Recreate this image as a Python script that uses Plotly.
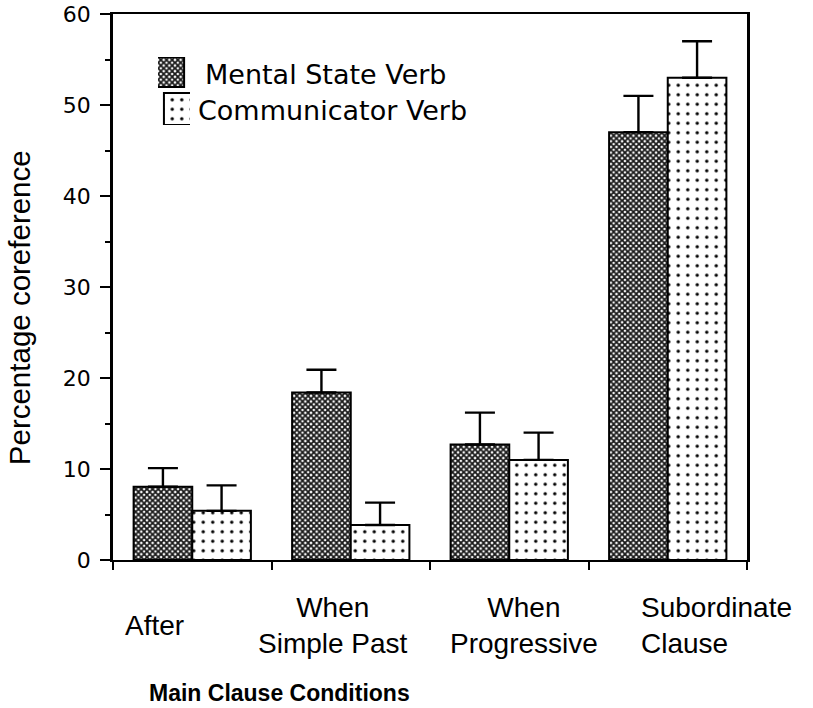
import plotly.graph_objects as go

categories = ["After", "When Simple Past", "When Progressive", "Subordinate Clause"]
cat_labels = ["After", "When<br>Simple Past", "When<br>Progressive", "Subordinate<br>Clause"]
mental = [8.05, 18.4, 12.7, 47.0]
mental_err = [2.05, 2.5, 3.5, 4.0]
communicator = [5.4, 3.85, 11.0, 53.0]
communicator_err = [2.8, 2.45, 3.0, 4.0]
series_names = ["Mental State Verb", "Communicator Verb"]
y_ticks = [0, 10, 20, 30, 40, 50, 60]

# label placement (offset from category centre, in category units) and alignment
label_offset = [-0.24, -0.11, 0.09, -0.18]
label_anchor = ["center", "center", "center", "left"]

FONT = "Liberation Sans, Arial, Helvetica, sans-serif"

mental_pattern = dict(shape="x", size=4, solidity=0.7, fgcolor="#1a1a1a",
                      bgcolor="white", fillmode="replace")
comm_pattern = dict(shape=".", size=9.5, solidity=0.1, fgcolor="black",
                    bgcolor="white", fillmode="replace")

fig = go.Figure()
fig.add_trace(go.Bar(
    x=list(range(len(categories))), y=mental, name=series_names[0], showlegend=False,
    marker=dict(color="white", line=dict(color="black", width=2), pattern=mental_pattern),
    error_y=dict(type="data", array=mental_err, arrayminus=[0] * 4, symmetric=False,
                 color="black", thickness=2.4, width=15),
))
fig.add_trace(go.Bar(
    x=list(range(len(categories))), y=communicator, name=series_names[1], showlegend=False,
    marker=dict(color="white", line=dict(color="black", width=2), pattern=comm_pattern),
    error_y=dict(type="data", array=communicator_err, arrayminus=[0] * 4, symmetric=False,
                 color="black", thickness=2.4, width=15),
))

# legend key: two patterned swatches drawn in a small inset axis
fig.add_trace(go.Bar(
    x=[0], y=[0.88], base=[1.12], width=[1], xaxis="x2", yaxis="y2", showlegend=False,
    hoverinfo="skip",
    marker=dict(color="white", line=dict(color="black", width=2), pattern=mental_pattern),
))
fig.add_trace(go.Bar(
    x=[0], y=[0.94], base=[0], width=[1], xaxis="x2", yaxis="y2", showlegend=False,
    hoverinfo="skip",
    marker=dict(color="white", line=dict(color="black", width=2), pattern=comm_pattern),
))
legend_y = [0.890, 0.824]
legend_x = [0.142, 0.131]
for name, lx, ly in zip(series_names, legend_x, legend_y):
    fig.add_annotation(
        x=lx, y=ly, xref="paper", yref="paper", text=name, showarrow=False,
        xanchor="left", yanchor="middle",
        font=dict(family="DejaVu Sans", size=27, color="black"),
    )

for i, lab in enumerate(cat_labels):
    fig.add_annotation(
        x=i + label_offset[i], y=-0.12, xref="x", yref="paper",
        text=lab, showarrow=False, xanchor=label_anchor[i], yanchor="middle",
        align=label_anchor[i], font=dict(family=FONT, size=28, color="black"),
    )

fig.add_annotation(
    x=0.262, y=-0.243, xref="paper", yref="paper", text="<b>Main Clause Conditions</b>",
    showarrow=False, xanchor="center", yanchor="middle",
    font=dict(family=FONT, size=23, color="black"),
)
fig.add_annotation(
    x=-0.148, y=0.4615, xref="paper", yref="paper", text="Percentage coreference",
    showarrow=False, textangle=-90, xanchor="center", yanchor="middle",
    font=dict(family=FONT, size=29.5, color="black"),
)

fig.update_layout(
    width=813, height=708,
    margin=dict(l=113, r=66, t=14, b=148, autoexpand=False),
    paper_bgcolor="white", plot_bgcolor="white",
    barmode="group", bargap=0.26, bargroupgap=0,
    showlegend=False,
    font=dict(family=FONT, color="black"),
    xaxis=dict(
        type="linear", range=[-0.5, 3.5], showgrid=False, zeroline=False, automargin=False,
        showline=True, linecolor="black", linewidth=2, mirror=True,
        tickmode="array", tickvals=[-0.5, 0.5, 1.5, 2.5, 3.5], ticks="outside",
        ticklen=8, tickwidth=2, tickcolor="black", showticklabels=False,
    ),
    yaxis=dict(
        range=[0, 60], showgrid=False, zeroline=False, automargin=False,
        showline=True, linecolor="black", linewidth=2.5, mirror=True,
        tickmode="array", tickvals=y_ticks, ticks="outside", ticklen=10, tickwidth=2,
        tickcolor="black", ticklabelstandoff=5,
        tickfont=dict(family="DejaVu Sans", size=22, color="black"),
        minor=dict(dtick=5, ticks="outside", ticklen=5, tickwidth=2, tickcolor="black",
                   showgrid=False),
    ),
    xaxis2=dict(domain=[0.071, 0.1215], range=[-0.5, 0.5], anchor="y2", visible=False,
                fixedrange=True),
    yaxis2=dict(domain=[0.7967, 0.9212], range=[0, 2], anchor="x2", visible=False,
                fixedrange=True),
)

fig.write_html("out.html", config={"displayModeBar": False},
               post_script="document.body.style.margin='0';")
